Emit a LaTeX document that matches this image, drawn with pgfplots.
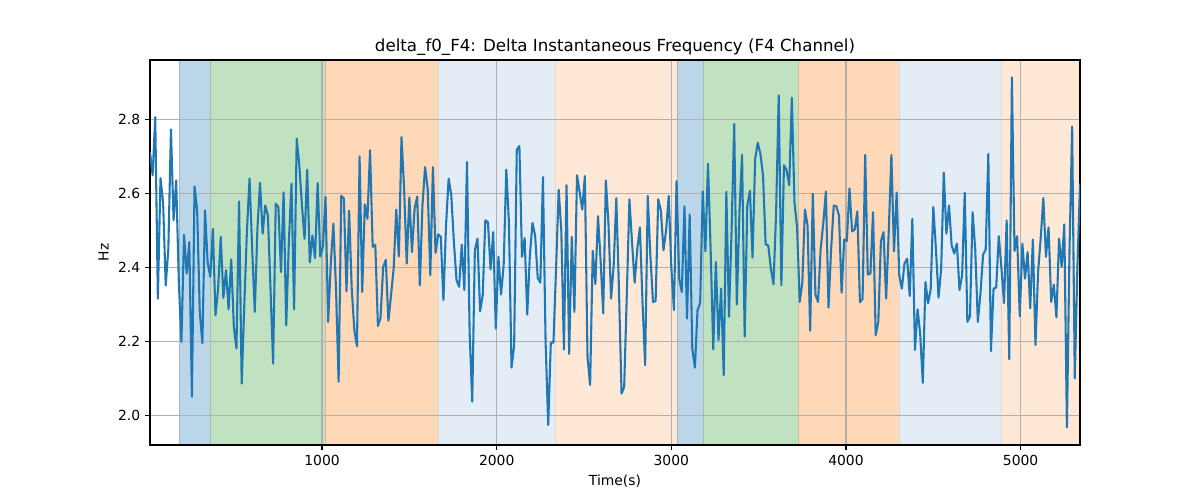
\documentclass[border=0pt]{standalone}
\usepackage{fontspec}
\setmainfont{DejaVu Sans}
\usepackage{pgfplots}
\usepackage{pgfplotstable}
\pgfplotsset{compat=1.18}
\definecolor{tabblue}{RGB}{31,119,180}
\definecolor{spblue}{RGB}{187,214,233}
\definecolor{spgreen}{RGB}{192,226,192}
\definecolor{sporange}{RGB}{255,216,183}
\definecolor{splblue}{RGB}{228,237,246}
\definecolor{splorange}{RGB}{255,233,214}
\definecolor{gridgray}{RGB}{176,176,176}

\pgfplotstableread{
x y
15 2.713
30 2.650
45 2.807
60 2.316
75 2.642
90 2.577
105 2.352
120 2.450
135 2.774
150 2.528
165 2.636
180 2.361
195 2.199
210 2.489
225 2.384
240 2.469
255 2.050
270 2.620
285 2.555
300 2.280
315 2.195
330 2.555
345 2.415
360 2.375
375 2.505
390 2.271
405 2.343
420 2.483
435 2.318
450 2.393
465 2.287
480 2.422
495 2.240
510 2.181
525 2.579
540 2.086
555 2.300
570 2.500
585 2.641
600 2.450
615 2.280
630 2.505
645 2.629
660 2.492
675 2.568
690 2.541
705 2.343
720 2.140
735 2.573
750 2.564
765 2.388
780 2.604
795 2.244
810 2.469
825 2.627
840 2.287
855 2.749
870 2.677
885 2.568
900 2.478
915 2.665
930 2.414
945 2.487
960 2.426
975 2.629
990 2.430
1005 2.456
1020 2.591
1035 2.253
1050 2.410
1065 2.519
1080 2.343
1095 2.091
1110 2.594
1125 2.587
1140 2.336
1155 2.554
1170 2.343
1185 2.231
1200 2.187
1215 2.701
1230 2.334
1245 2.571
1260 2.532
1275 2.718
1290 2.456
1305 2.462
1320 2.242
1335 2.264
1350 2.401
1365 2.421
1380 2.256
1395 2.325
1410 2.397
1425 2.557
1440 2.430
1455 2.753
1470 2.614
1485 2.411
1500 2.590
1515 2.442
1530 2.559
1545 2.592
1560 2.352
1575 2.568
1590 2.672
1605 2.614
1620 2.379
1635 2.672
1650 2.440
1665 2.490
1680 2.483
1695 2.312
1710 2.514
1725 2.641
1740 2.596
1755 2.469
1770 2.366
1785 2.348
1800 2.462
1815 2.339
1830 2.686
1845 2.226
1860 2.037
1875 2.447
1890 2.478
1905 2.282
1920 2.325
1935 2.528
1950 2.523
1965 2.395
1980 2.496
1995 2.235
2010 2.429
2025 2.327
2040 2.406
2055 2.665
2070 2.523
2085 2.129
2100 2.190
2115 2.719
2130 2.729
2145 2.429
2160 2.480
2175 2.273
2190 2.433
2205 2.521
2220 2.487
2235 2.372
2250 2.359
2265 2.645
2280 2.200
2295 1.974
2310 2.197
2325 2.197
2340 2.397
2355 2.611
2370 2.500
2385 2.178
2400 2.623
2415 2.166
2430 2.483
2445 2.280
2460 2.650
2475 2.605
2490 2.557
2505 2.648
2520 2.159
2535 2.082
2550 2.445
2565 2.355
2580 2.539
2595 2.420
2610 2.276
2625 2.636
2640 2.520
2655 2.316
2670 2.406
2685 2.588
2700 2.343
2715 2.059
2730 2.077
2745 2.325
2760 2.585
2775 2.469
2790 2.359
2805 2.450
2820 2.509
2835 2.306
2850 2.136
2865 2.594
2880 2.433
2895 2.307
2910 2.309
2925 2.585
2940 2.555
2955 2.447
2970 2.500
2985 2.594
3000 2.400
3015 2.285
3030 2.634
3045 2.370
3060 2.334
3075 2.566
3090 2.262
3105 2.544
3120 2.181
3135 2.129
3150 2.285
3165 2.303
3180 2.606
3195 2.444
3210 2.681
3225 2.450
3240 2.179
3255 2.415
3270 2.204
3285 2.343
3300 2.109
3315 2.605
3330 2.267
3345 2.500
3360 2.789
3375 2.300
3390 2.550
3405 2.705
3420 2.213
3435 2.568
3450 2.608
3465 2.427
3480 2.694
3495 2.738
3510 2.708
3525 2.650
3540 2.463
3555 2.460
3570 2.397
3585 2.355
3600 2.550
3615 2.866
3630 2.352
3645 2.677
3660 2.663
3675 2.623
3690 2.860
3705 2.577
3720 2.510
3735 2.307
3750 2.359
3765 2.557
3780 2.514
3795 2.229
3810 2.600
3825 2.327
3840 2.307
3855 2.450
3870 2.520
3885 2.606
3900 2.292
3915 2.450
3930 2.568
3945 2.566
3960 2.541
3975 2.332
3990 2.476
4005 2.472
4020 2.614
4035 2.498
4050 2.503
4065 2.552
4080 2.306
4095 2.315
4110 2.705
4125 2.381
4140 2.384
4155 2.550
4170 2.217
4185 2.253
4200 2.471
4215 2.496
4230 2.316
4245 2.500
4260 2.705
4275 2.444
4290 2.603
4305 2.379
4320 2.343
4335 2.411
4350 2.424
4365 2.323
4380 2.532
4395 2.177
4410 2.287
4425 2.220
4440 2.088
4455 2.361
4470 2.303
4485 2.341
4500 2.564
4515 2.450
4530 2.319
4545 2.397
4560 2.657
4575 2.492
4590 2.568
4605 2.460
4620 2.438
4635 2.465
4650 2.339
4665 2.379
4680 2.603
4695 2.253
4710 2.267
4725 2.550
4740 2.450
4755 2.253
4770 2.330
4785 2.435
4800 2.449
4815 2.708
4830 2.174
4845 2.343
4860 2.346
4875 2.485
4890 2.400
4905 2.304
4920 2.528
4935 2.152
4950 2.915
4965 2.445
4980 2.485
4995 2.268
5010 2.465
5025 2.370
5040 2.442
5055 2.290
5070 2.476
5085 2.190
5100 2.388
5115 2.480
5130 2.588
5145 2.429
5160 2.509
5175 2.307
5190 2.354
5205 2.265
5220 2.478
5235 2.402
5250 2.517
5265 1.967
5280 2.450
5295 2.782
5310 2.100
5325 2.400
5340 2.627
}\datatable

\begin{document}
\begin{tikzpicture}[x=1pt,y=1pt]
\begin{axis}[
  set layers,
  at={(0,0)}, anchor=south west,
  width=669.6pt, height=277.2pt, scale only axis,
  xmin=15, xmax=5340, ymin=1.9196, ymax=2.962,
  xtick={1000,2000,3000,4000,5000},
  ytick={2.0,2.2,2.4,2.6,2.8},
  scaled ticks=false,
  xticklabel style={/pgf/number format/.cd, 1000 sep={}},
  yticklabel style={/pgf/number format/.cd, fixed, fixed zerofill, precision=1},
  /pgf/number format/assume math mode=true,
  grid=major,
  major grid style={gridgray, line width=0.8pt},
  tick align=outside, major tick length=3.5pt, tick pos=left,
  tick style={black, line width=0.8pt},
  axis line style={black, line width=0.8pt},
  tick label style={font=\fontsize{10}{12}\selectfont},
  label style={font=\fontsize{10}{12}\selectfont},
  title style={font=\fontsize{12}{14}\selectfont, yshift=-6.5pt},
  title={delta\_f0\_F4: Delta Instantaneous Frequency (F4 Channel)},
  xlabel={Time(s)},
  ylabel={Hz},
]
\addplot[on layer=axis background, fill=spblue, draw=spblue!85!black, line width=0.6pt] coordinates {(186,1.9196) (186,2.962) (360,2.962) (360,1.9196)} -- cycle;
\addplot[on layer=axis background, fill=spgreen, draw=spgreen!85!black, line width=0.6pt] coordinates {(360,1.9196) (360,2.962) (1017,2.962) (1017,1.9196)} -- cycle;
\addplot[on layer=axis background, fill=sporange, draw=sporange!85!black, line width=0.6pt] coordinates {(1017,1.9196) (1017,2.962) (1665,2.962) (1665,1.9196)} -- cycle;
\addplot[on layer=axis background, fill=splblue, draw=splblue!92!black, line width=0.6pt] coordinates {(1665,1.9196) (1665,2.962) (2338,2.962) (2338,1.9196)} -- cycle;
\addplot[on layer=axis background, fill=splorange, draw=splorange!92!black, line width=0.6pt] coordinates {(2338,1.9196) (2338,2.962) (3032,2.962) (3032,1.9196)} -- cycle;
\addplot[on layer=axis background, fill=spblue, draw=spblue!85!black, line width=0.6pt] coordinates {(3032,1.9196) (3032,2.962) (3184,2.962) (3184,1.9196)} -- cycle;
\addplot[on layer=axis background, fill=spgreen, draw=spgreen!85!black, line width=0.6pt] coordinates {(3184,1.9196) (3184,2.962) (3730,2.962) (3730,1.9196)} -- cycle;
\addplot[on layer=axis background, fill=sporange, draw=sporange!85!black, line width=0.6pt] coordinates {(3730,1.9196) (3730,2.962) (4307,2.962) (4307,1.9196)} -- cycle;
\addplot[on layer=axis background, fill=splblue, draw=splblue!92!black, line width=0.6pt] coordinates {(4307,1.9196) (4307,2.962) (4890,2.962) (4890,1.9196)} -- cycle;
\addplot[on layer=axis background, fill=splorange, draw=splorange!92!black, line width=0.6pt] coordinates {(4890,1.9196) (4890,2.962) (5340,2.962) (5340,1.9196)} -- cycle;
\addplot[tabblue, line width=1.5pt, mark=none, line join=round] table[x=x, y=y] {\datatable};
\end{axis}
\path (-108,-39.6) rectangle (756,320.4);
\end{tikzpicture}
\end{document}
